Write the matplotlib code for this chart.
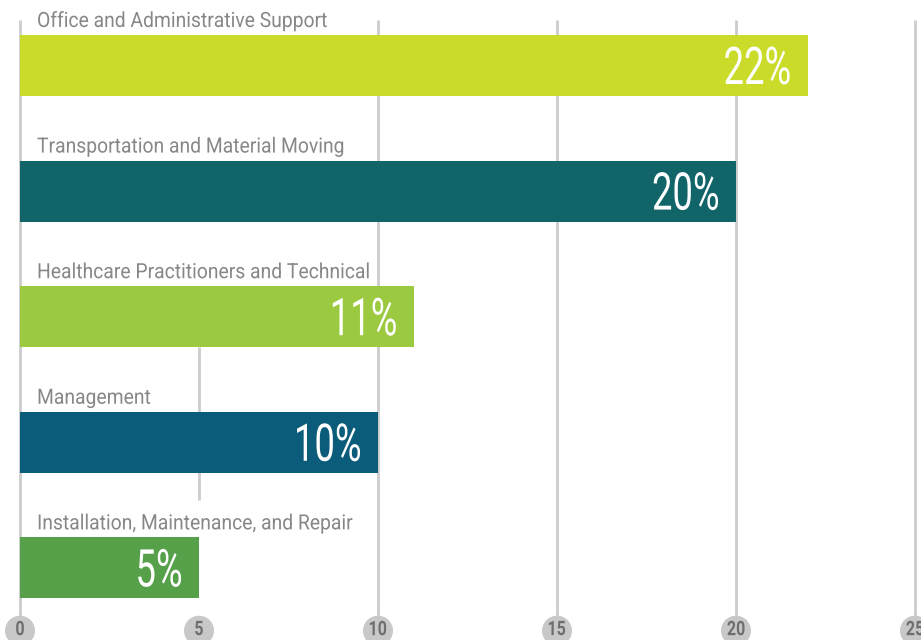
import matplotlib
matplotlib.use("Agg")
import matplotlib.pyplot as plt
from matplotlib.textpath import TextPath
from matplotlib.patches import PathPatch
from matplotlib.font_manager import FontProperties
from matplotlib.transforms import Affine2D

# ======= Data =======
occupations = [
    "Office and Administrative Support",
    "Transportation and Material Moving",
    "Healthcare Practitioners and Technical",
    "Management",
    "Installation, Maintenance, and Repair",
]
shares = [22, 20, 11, 10, 5]
bar_colors = ["#cadb2a", "#116468", "#9bc93f", "#0b5c7a", "#56a04a"]
x_ticks = [0, 5, 10, 15, 20, 25]

grid_color = "#cccccc"
fp_reg = FontProperties(family="Roboto", weight="normal")
fp_bold = FontProperties(family="Roboto", weight="bold")

# ======= Figure =======
fig = plt.figure(figsize=(9.21, 6.4), dpi=100)
ax = fig.add_axes([0, 0, 1, 1])
ax.set_xlim(-0.559, 25.168)
ax.set_ylim(4.574, -0.5215)
ax.axis("off")


def squeezed_text(x, y, s, size, sx, color, fp, ha="left", va="baseline",
                  dx=0, dy=0, z=3):
    # condensed text: glyph outlines squeezed horizontally, drawn in pixels
    tp = TextPath((0, 0), s, size=size, prop=fp)
    bb = tp.get_extents()
    px, py = ax.transData.transform((x, y))
    if ha == "right":
        ox = -bb.x1 * sx
    elif ha == "center":
        ox = -(bb.x0 + bb.x1) / 2 * sx
    else:
        ox = 0
    oy = -(bb.y0 + bb.y1) / 2 if va == "center" else 0
    tr = Affine2D().scale(sx, 1).translate(px + ox + dx, py + oy + dy)
    patch = PathPatch(tp, transform=tr, facecolor=color, edgecolor="none",
                      zorder=z)
    fig.add_artist(patch)


bar_h = 0.486
ypos = list(range(len(occupations)))

# vertical grid lines (the one at 5 only shows in the lower part)
for t in x_ticks:
    if t == 5:
        ax.vlines(t, ypos[2] + bar_h / 2, 3.46, color=grid_color, lw=2, zorder=1)
    else:
        ax.vlines(t, -0.362, 4.48, color=grid_color, lw=2, zorder=1)

ax.barh(ypos, shares, height=bar_h, color=bar_colors, zorder=2)

for y, name, val in zip(ypos, occupations, shares):
    squeezed_text(0, y - bar_h / 2, name, 21, 0.92, "#878787", fp_reg,
                  dx=17, dy=8)
    squeezed_text(val, y, f"{val}%", 52, 0.70, "white", fp_reg,
                  ha="right", va="center", dx=-18)

# tick bubbles along the bottom
ax.scatter(x_ticks, [4.50] * len(x_ticks), s=466, color="#c8c8c8",
           edgecolors="none", zorder=3, clip_on=False)
for t in x_ticks:
    squeezed_text(t, 4.479, str(t), 20, 0.80, "#6e6e6e", fp_bold,
                  ha="center", va="center", z=4)

fig.savefig("out.png", dpi=100)
